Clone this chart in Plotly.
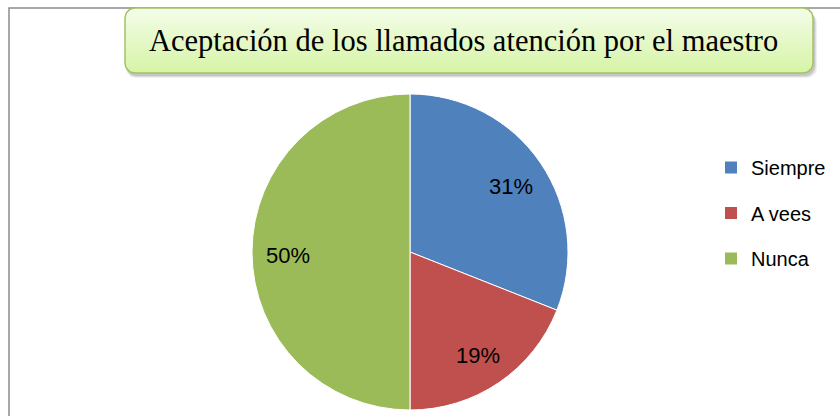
import math
import plotly.graph_objects as go

# ---- data ----
categories = ["Siempre", "A vees", "Nunca"]
values = [31, 19, 50]
colors = ["#4f81bd", "#c0504d", "#9bbb59"]
title_text = "Aceptación de los llamados atención por el maestro"

W, H = 840, 416
cx, cy, R = 410, 252, 158

fig = go.Figure()

# pie
fig.add_trace(go.Pie(
    labels=categories, values=values, sort=False, direction="clockwise",
    rotation=0, marker=dict(colors=colors, line=dict(color="white", width=1)),
    textinfo="none", showlegend=False, hoverinfo="label+percent",
    domain=dict(x=[(cx - R) / W, (cx + R) / W],
                y=[(H - cy - R) / H, (H - cy + R) / H]),
))

# rounded title box (gradient) built as a filled scatter path
def rounded_rect(x0, y0, x1, y1, r, n=8):
    pts = []
    corners = [(x1 - r, y0 + r, -90, 0), (x1 - r, y1 - r, 0, 90),
               (x0 + r, y1 - r, 90, 180), (x0 + r, y0 + r, 180, 270)]
    for (ccx, ccy, a0, a1) in corners:
        for i in range(n + 1):
            a = math.radians(a0 + (a1 - a0) * i / n)
            pts.append((ccx + r * math.cos(a), ccy + r * math.sin(a)))
    pts.append(pts[0])
    return [p[0] for p in pts], [p[1] for p in pts]

bx0, by0, bx1, by1 = 125, 8, 813, 73
for off, alpha in [(5, 0.06), (4, 0.08), (3, 0.10)]:
    sx, sy = rounded_rect(bx0 + 1, by0 + off, bx1 + off - 1, by1 + off, 10)
    fig.add_trace(go.Scatter(x=sx, y=sy, fill="toself", mode="lines",
                             line=dict(width=0), fillcolor=f"rgba(0,0,0,{alpha})",
                             hoverinfo="skip", showlegend=False))
rx, ry = rounded_rect(bx0, by0, bx1, by1, 10)
fig.add_trace(go.Scatter(
    x=rx, y=ry, fill="toself", mode="lines",
    line=dict(color="#a3c264", width=1.5),
    fillgradient=dict(type="vertical", start=by0, stop=by1,
                      colorscale=[[0, "#f4fde9"], [1, "#d6f4a6"]]),
    hoverinfo="skip", showlegend=False))

# legend-only entries
for name, col in zip(categories, colors):
    fig.add_trace(go.Scatter(x=[None], y=[None], mode="markers", name=name,
                             legendgroup=name,
                             marker=dict(symbol="square", size=12, color=col)))

# percentage labels placed at slice mid-angles
total = sum(values)
cum = 0
ann = []
for v in values:
    mid = (cum + v / 2) / total * 2 * math.pi
    cum += v
    rr = 0.77 * R
    ann.append(dict(x=cx + rr * math.sin(mid), y=cy - rr * math.cos(mid) + 3,
                    text=f"{v}%", showarrow=False, xref="x", yref="y",
                    font=dict(family="Liberation Sans", size=22, color="black")))
ann.append(dict(x=(bx0 + bx1) / 2 - 6, y=(by0 + by1) / 2, xref="x", yref="y",
                text=title_text, showarrow=False,
                font=dict(family="Liberation Serif", size=30.5, color="black")))

fig.update_layout(
    width=W, height=H, margin=dict(l=0, r=0, t=0, b=0),
    paper_bgcolor="white", plot_bgcolor="rgba(0,0,0,0)",
    xaxis=dict(range=[0, W], visible=False, fixedrange=True, domain=[0, 1]),
    yaxis=dict(range=[H, 0], visible=False, fixedrange=True, domain=[0, 1]),
    shapes=[dict(type="rect", xref="x", yref="y", x0=9, y0=8, x1=W + 5, y1=H + 5,
                 line=dict(color="#8c8c8c", width=1.5), layer="below")],
    annotations=ann,
    legend=dict(x=711 / W, xanchor="left", y=(H - 148) / H, yanchor="top",
                font=dict(family="Liberation Sans", size=20, color="black"),
                tracegroupgap=16.5, bgcolor="rgba(0,0,0,0)"),
    showlegend=True,
)

fig.write_html("out.html", config={"displayModeBar": False},
               post_script="document.body.style.margin='0';document.body.style.overflow='hidden';")
